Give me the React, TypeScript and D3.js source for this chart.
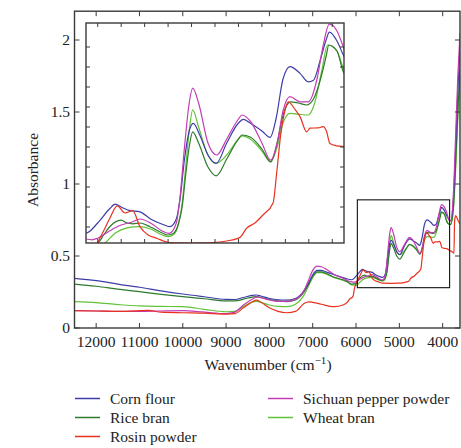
import React from 'react';
import * as d3 from 'd3';

// spectra: [wavenumber cm-1, absorbance]
const cornFlour: [number, number][] = [
  [12500, 0.345], [12000, 0.329], [11500, 0.305], [11000, 0.283], [10500, 0.258], [10000, 0.236],
  [9500, 0.217], [9000, 0.199], [8800, 0.198], [8600, 0.212], [8400, 0.226], [8300, 0.229],
  [8200, 0.222], [8000, 0.205], [7800, 0.196], [7600, 0.194], [7400, 0.205], [7200, 0.26],
  [7100, 0.31], [7000, 0.37], [6900, 0.4], [6800, 0.4], [6700, 0.39], [6500, 0.37], [6300, 0.35],
  [6200, 0.34], [6100, 0.335], [6000, 0.36], [5900, 0.395], [5850, 0.407], [5800, 0.4],
  [5725, 0.391], [5640, 0.388], [5550, 0.37], [5450, 0.357], [5384, 0.351], [5330, 0.37],
  [5298, 0.42], [5260, 0.52], [5220, 0.59], [5185, 0.609], [5130, 0.58], [5060, 0.53],
  [4990, 0.509], [4900, 0.56], [4800, 0.61], [4760, 0.619], [4700, 0.61], [4600, 0.59],
  [4530, 0.574], [4480, 0.62], [4420, 0.72], [4360, 0.751], [4275, 0.734], [4205, 0.713],
  [4160, 0.717], [4100, 0.77], [4050, 0.82], [4025, 0.837], [3960, 0.815], [3906, 0.78],
  [3850, 0.75], [3815, 0.745], [3750, 0.9], [3700, 1.25], [3650, 1.65], [3600, 1.95],
];

const riceBran: [number, number][] = [
  [12500, 0.305], [12000, 0.29], [11500, 0.27], [11000, 0.252], [10500, 0.234], [10000, 0.218],
  [9500, 0.203], [9000, 0.188], [8800, 0.188], [8600, 0.2], [8400, 0.215], [8300, 0.218],
  [8200, 0.212], [8000, 0.198], [7800, 0.188], [7600, 0.183], [7400, 0.195], [7200, 0.25],
  [7100, 0.3], [7000, 0.36], [6900, 0.39], [6800, 0.39], [6700, 0.38], [6500, 0.352],
  [6300, 0.335], [6200, 0.322], [6100, 0.305], [6000, 0.31], [5950, 0.33], [5900, 0.35],
  [5800, 0.367], [5750, 0.36], [5700, 0.358], [5640, 0.36], [5550, 0.35], [5450, 0.335],
  [5400, 0.33], [5350, 0.335], [5310, 0.36], [5280, 0.4], [5250, 0.48], [5220, 0.55],
  [5190, 0.588], [5140, 0.56], [5060, 0.5], [4990, 0.478], [4900, 0.52], [4800, 0.57],
  [4770, 0.58], [4700, 0.575], [4600, 0.545], [4525, 0.513], [4470, 0.56], [4420, 0.63],
  [4355, 0.663], [4290, 0.66], [4220, 0.655], [4160, 0.67], [4100, 0.72], [4050, 0.78],
  [4030, 0.805], [3960, 0.79], [3906, 0.738], [3850, 0.72], [3815, 0.72], [3750, 0.85],
  [3700, 1.15], [3650, 1.5], [3600, 1.8],
];

const rosinPowder: [number, number][] = [
  [12500, 0.12], [12000, 0.118], [11500, 0.115], [11000, 0.12], [10800, 0.123], [10500, 0.11],
  [10000, 0.106], [9500, 0.103], [9000, 0.097], [8800, 0.1], [8600, 0.14], [8400, 0.18],
  [8300, 0.194], [8200, 0.18], [8000, 0.14], [7800, 0.115], [7600, 0.106], [7400, 0.115],
  [7200, 0.17], [7100, 0.182], [7000, 0.178], [6800, 0.165], [6600, 0.15], [6500, 0.148],
  [6300, 0.16], [6200, 0.18], [6150, 0.2], [6070, 0.22], [6040, 0.27], [6000, 0.31],
  [5950, 0.34], [5900, 0.37], [5833, 0.403], [5767, 0.385], [5702, 0.391], [5640, 0.351],
  [5570, 0.33], [5497, 0.322], [5384, 0.311], [5200, 0.31], [5017, 0.311], [4900, 0.315],
  [4787, 0.324], [4730, 0.347], [4660, 0.36], [4591, 0.38], [4505, 0.41], [4474, 0.485],
  [4440, 0.58], [4400, 0.645], [4375, 0.663], [4320, 0.645], [4275, 0.626], [4218, 0.588],
  [4190, 0.597], [4120, 0.598], [4077, 0.601], [4050, 0.59], [4020, 0.559], [3960, 0.553],
  [3906, 0.551], [3850, 0.54], [3780, 0.53], [3740, 0.52], [3725, 0.74], [3700, 0.78],
  [3650, 0.75], [3600, 0.72],
];

const sichuanPepper: [number, number][] = [
  [12500, 0.12], [12000, 0.118], [11500, 0.115], [11000, 0.115], [10500, 0.118], [10000, 0.12],
  [9500, 0.11], [9000, 0.1], [8800, 0.11], [8600, 0.16], [8400, 0.2], [8300, 0.215],
  [8200, 0.21], [8000, 0.195], [7800, 0.185], [7600, 0.185], [7400, 0.2], [7200, 0.26],
  [7100, 0.33], [7000, 0.4], [6900, 0.43], [6800, 0.425], [6700, 0.41], [6500, 0.37],
  [6300, 0.345], [6200, 0.33], [6100, 0.32], [6050, 0.318], [6000, 0.322], [5900, 0.34],
  [5800, 0.355], [5700, 0.363], [5640, 0.37], [5550, 0.36], [5450, 0.34], [5390, 0.334],
  [5330, 0.36], [5300, 0.42], [5260, 0.55], [5220, 0.66], [5190, 0.697], [5140, 0.66],
  [5060, 0.56], [4985, 0.53], [4900, 0.57], [4800, 0.62], [4770, 0.63], [4700, 0.615],
  [4600, 0.56], [4525, 0.517], [4470, 0.56], [4420, 0.64], [4360, 0.676], [4275, 0.663],
  [4205, 0.663], [4130, 0.72], [4080, 0.8], [4025, 0.857], [3960, 0.84], [3906, 0.8],
  [3850, 0.75], [3815, 0.745], [3750, 0.95], [3700, 1.35], [3650, 1.75], [3600, 2.05],
];

const wheatBran: [number, number][] = [
  [12500, 0.183], [12000, 0.176], [11500, 0.163], [11000, 0.153], [10500, 0.15], [10000, 0.148],
  [9500, 0.13], [9000, 0.113], [8800, 0.115], [8600, 0.15], [8400, 0.18], [8300, 0.185],
  [8200, 0.178], [8000, 0.16], [7800, 0.15], [7600, 0.148], [7400, 0.165], [7200, 0.23],
  [7100, 0.29], [7000, 0.35], [6900, 0.385], [6800, 0.385], [6700, 0.375], [6500, 0.35],
  [6300, 0.33], [6200, 0.32], [6100, 0.3], [6000, 0.298], [5938, 0.31], [5850, 0.335],
  [5750, 0.348], [5650, 0.351], [5550, 0.345], [5450, 0.33], [5400, 0.326], [5350, 0.332],
  [5310, 0.36], [5280, 0.41], [5250, 0.5], [5220, 0.59], [5190, 0.643], [5140, 0.6],
  [5060, 0.53], [4990, 0.509], [4900, 0.53], [4800, 0.57], [4770, 0.578], [4700, 0.57],
  [4600, 0.54], [4525, 0.513], [4470, 0.55], [4420, 0.61], [4360, 0.634], [4290, 0.632],
  [4205, 0.63], [4150, 0.66], [4090, 0.74], [4040, 0.805], [3960, 0.79], [3906, 0.747],
  [3850, 0.72], [3815, 0.72], [3750, 0.83], [3700, 1.1], [3650, 1.45], [3600, 1.75],
];

const seriesNames = ['Corn flour', 'Rice bran', 'Rosin powder', 'Sichuan pepper powder', 'Wheat bran'];
const seriesData = [cornFlour, riceBran, rosinPowder, sichuanPepper, wheatBran];
const seriesColors = ['#3d3da8', '#2c7a2c', '#e8321e', '#c43cb4', '#62c23a'];
// drawing order: greens under, then blue, red, pink
const drawOrder = [4, 1, 0, 3, 2];

const xTicks = [12000, 11000, 10000, 9000, 8000, 7000, 6000, 5000, 4000];
const yTicks = [0, 0.5, 1, 1.5, 2];
const insetXTicks = [6000, 5800, 5600, 5400, 5200, 5000, 4800, 4600, 4400, 4200, 4000];
const insetYTicks = [0.35, 0.4, 0.45, 0.5, 0.55, 0.6, 0.65, 0.7, 0.75, 0.8];
const zoomBox = { x0: 5970, x1: 3840, y0: 0.28, y1: 0.89 };

const txt = { fontFamily: '"Liberation Serif", "DejaVu Serif", serif', fontSize: 15.5, fill: '#222' };

export default function App() {
  const W = 461, H = 448;
  const x = d3.scaleLinear().domain([12500, 3600]).range([74.5, 460]);
  const y = d3.scaleLinear().domain([0, 2.2]).range([328, 11.2]);
  const ix = d3.scaleLinear().domain([6100, 3900]).range([86, 344]);
  const iy = d3.scaleLinear().domain([0.31, 0.86]).range([243, 23]);

  const mainLine = d3.line<[number, number]>().x(d => x(d[0])).y(d => y(d[1])).curve(d3.curveMonotoneX);
  const insetLine = d3.line<[number, number]>().x(d => ix(d[0])).y(d => iy(d[1])).curve(d3.curveMonotoneX);

  const axisCol = '#3a3a3a';
  const tl = 5;

  return (
    <svg width={W} height={H} style={{ position: 'absolute', left: 0, top: 0, background: '#fff' }}>
      <defs>
        <clipPath id="mainClip">
          <rect x={x(12500)} y={y(2.2)} width={x(3600) - x(12500)} height={y(0) - y(2.2)} />
        </clipPath>
        <clipPath id="insetClip">
          <rect x={ix(6100)} y={iy(0.86)} width={ix(3900) - ix(6100)} height={iy(0.31) - iy(0.86)} />
        </clipPath>
      </defs>

      {/* main spectra */}
      <g clipPath="url(#mainClip)" fill="none" strokeWidth={1.2}>
        {drawOrder.map(i => (
          <path key={i} d={mainLine(seriesData[i]) || ''} stroke={seriesColors[i]} />
        ))}
      </g>

      {/* zoom box */}
      <rect x={x(zoomBox.x0)} y={y(zoomBox.y1)} width={x(zoomBox.x1) - x(zoomBox.x0)}
        height={y(zoomBox.y0) - y(zoomBox.y1)} fill="none" stroke="#111" strokeWidth={1.1} />

      {/* main frame + ticks */}
      <rect x={x(12500)} y={y(2.2)} width={x(3600) - x(12500)} height={y(0) - y(2.2)}
        fill="none" stroke={axisCol} strokeWidth={1.4} />
      {xTicks.map(t => (
        <g key={t} stroke={axisCol} strokeWidth={1}>
          <line x1={x(t)} x2={x(t)} y1={y(0)} y2={y(0) - tl} />
          <line x1={x(t)} x2={x(t)} y1={y(2.2)} y2={y(2.2) + tl} />
        </g>
      ))}
      {yTicks.map(t => (
        <g key={t} stroke={axisCol} strokeWidth={1}>
          <line x1={x(12500)} x2={x(12500) + tl} y1={y(t)} y2={y(t)} />
          <line x1={x(3600)} x2={x(3600) - tl} y1={y(t)} y2={y(t)} />
        </g>
      ))}
      {xTicks.map(t => (
        <text key={t} x={x(t)} y={347} textAnchor="middle" style={txt}>{t}</text>
      ))}
      {yTicks.map(t => (
        <text key={t} x={70} y={y(t) + 5} textAnchor="end" style={txt}>{t}</text>
      ))}
      <text transform="translate(38,170) rotate(-90)" textAnchor="middle" style={txt}>Absorbance</text>
      <text x={268} y={370} textAnchor="middle" style={txt}>
        Wavenumber (cm<tspan dy={-6} style={{ fontSize: 11 }}>−1</tspan><tspan dy={6}>)</tspan>
      </text>

      {/* inset */}
      <rect x={ix(6100)} y={iy(0.86)} width={ix(3900) - ix(6100)} height={iy(0.31) - iy(0.86)} fill="#fff" />
      <g clipPath="url(#insetClip)" fill="none" strokeWidth={1.2}>
        {drawOrder.map(i => (
          <path key={i} d={insetLine(seriesData[i]) || ''} stroke={seriesColors[i]} />
        ))}
      </g>
      <rect x={ix(6100)} y={iy(0.86)} width={ix(3900) - ix(6100)} height={iy(0.31) - iy(0.86)}
        fill="none" stroke={axisCol} strokeWidth={1.4} />
      {insetXTicks.map(t => (
        <g key={t} stroke={axisCol} strokeWidth={1}>
          <line x1={ix(t)} x2={ix(t)} y1={iy(0.31)} y2={iy(0.31) - 4} />
          <line x1={ix(t)} x2={ix(t)} y1={iy(0.86)} y2={iy(0.86) + 4} />
        </g>
      ))}
      {insetYTicks.map(t => (
        <g key={t} stroke={axisCol} strokeWidth={1}>
          <line x1={ix(6100)} x2={ix(6100) + 4} y1={iy(t)} y2={iy(t)} />
          <line x1={ix(3900)} x2={ix(3900) - 4} y1={iy(t)} y2={iy(t)} />
        </g>
      ))}

      {/* legend */}
      {seriesNames.map((name, i) => {
        const col = i < 3 ? 0 : 1;
        const row = i < 3 ? i : i - 3;
        const lx = col === 0 ? 75 : 268;
        const ly = 398.5 + row * 19;
        return (
          <g key={name}>
            <line x1={lx} x2={lx + 25} y1={ly} y2={ly} stroke={seriesColors[i]} strokeWidth={1.5} />
            <text x={lx + 35} y={ly + 5} style={txt}>{name}</text>
          </g>
        );
      })}
    </svg>
  );
}
